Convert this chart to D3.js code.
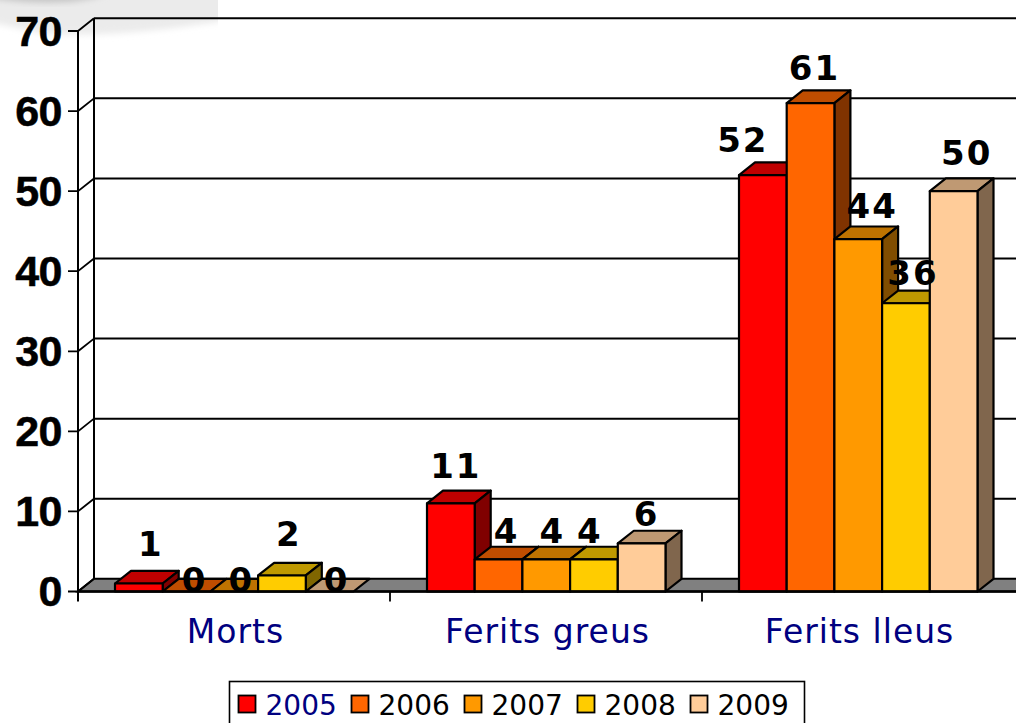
<!DOCTYPE html>
<html><head><meta charset="utf-8">
<script src="https://cdn.jsdelivr.net/npm/d3@7"></script>
<style>html,body{margin:0;padding:0;background:#fff;overflow:hidden}svg{display:block}</style>
</head><body><svg id="c" width="1016" height="723"></svg>
<script>
const categories = ["Morts", "Ferits greus", "Ferits lleus"];
const years = ["2005", "2006", "2007", "2008", "2009"];
const values2005 = [1, 11, 52];
const values2006 = [0, 4, 61];
const values2007 = [0, 4, 44];
const values2008 = [2, 4, 36];
const values2009 = [0, 6, 50];
const seriesValues = [values2005, values2006, values2007, values2008, values2009];
const colors = ["#FF0000", "#FF6600", "#FF9900", "#FFCC00", "#FFCC99"];
const yTicks = [0, 10, 20, 30, 40, 50, 60, 70];
// hand placement of the data labels, per year then category: [shift right of bar centre, gap above bar top]
const labelNudge = [
  [[12, 27], [5, 25], [-20, 23]],
  [[8, 0], [8, 16], [4, 23]],
  [[7, 0], [6, 16], [14, 21]],
  [[7, 29.5], [-4, 16], [7, 18]],
  [[7, 0], [5, 17], [13, 26.5]]
];

const W = 1016, H = 723, dx = 16, dy = -12.7;
const svg = d3.select("#c");
const defs = svg.append("defs");
defs.append("filter").attr("id", "blur").attr("x", "-10%").attr("y", "-30%").attr("width", "120%").attr("height", "160%")
  .append("feGaussianBlur").attr("stdDeviation", 3);
defs.append("clipPath").attr("id", "wmclip").append("rect").attr("width", 218).attr("height", 60);

const y = d3.scaleLinear().domain([0, 70]).range([591.5, 31]);
const x0 = d3.scaleBand().domain(categories).range([78, 1014]);
const x1 = d3.scaleBand().domain(years).range([37, 275.5]);
const shade = (c, k) => { const r = d3.rgb(c); return d3.rgb(r.r * k, r.g * k, r.b * k).formatHex(); };

// watermark remnant behind the plot
const wm = svg.append("g").attr("clip-path", "url(#wmclip)");
wm.append("path").attr("d", "M-10,-10H240V18C170,30 100,38 40,33L-10,22Z").attr("fill", "#ebebeb").attr("filter", "url(#blur)");
wm.append("path").attr("d", "M-10,-10H112C90,5 40,5 -10,-2Z").attr("fill", "#c4c4c4").attr("filter", "url(#blur)");

const y0 = y(0), xL = x0.range()[0];

// floor
svg.append("path")
  .attr("d", `M${xL},${y0}L${xL + dx},${y0 + dy}H${W + 2}V${y0}Z`)
  .attr("fill", "#808080").attr("stroke", "#000").attr("stroke-width", 2);

// walls and gridlines
svg.append("g").selectAll("line").data(yTicks.slice(1)).join("line")
  .attr("x1", xL + dx).attr("x2", W + 2)
  .attr("y1", d => y(d) + dy).attr("y2", d => y(d) + dy)
  .attr("stroke", "#000").attr("stroke-width", 2);
svg.append("g").selectAll("path").data(yTicks).join("path")
  .attr("d", d => `M${xL - 10},${y(d)}H${xL}L${xL + dx},${y(d) + dy}`)
  .attr("fill", "none").attr("stroke", "#000").attr("stroke-width", 1.8);
svg.append("line").attr("x1", xL).attr("x2", xL).attr("y1", y(70)).attr("y2", y0 + 10).attr("stroke", "#000").attr("stroke-width", 2);
svg.append("line").attr("x1", xL + dx).attr("x2", xL + dx).attr("y1", y(70) + dy).attr("y2", y0 + dy).attr("stroke", "#000").attr("stroke-width", 2);

// bars
const bars = [];
categories.forEach((c, i) => years.forEach((yr, j) => bars.push({ c, i, yr, j, v: seriesValues[j][i] })));
const bw = x1.bandwidth();
const g = svg.append("g").attr("stroke", "#000").attr("stroke-width", 2.2).attr("stroke-linejoin", "round");
bars.forEach(b => {
  const l = x0(b.c) + x1(b.yr), r = l + bw, t = y(b.v), col = colors[b.j];
  g.append("path").attr("d", `M${l},${t}L${l + dx},${t + dy}H${r + dx}L${r},${t}Z`).attr("fill", shade(col, 0.75));
  if (b.v > 0) {
    g.append("path").attr("d", `M${r},${t}L${r + dx},${t + dy}V${y0 + dy}L${r},${y0}Z`).attr("fill", shade(col, 0.5));
    g.append("rect").attr("x", l).attr("y", t).attr("width", bw).attr("height", y0 - t).attr("fill", col);
  }
});

// baseline
svg.append("line").attr("x1", xL).attr("x2", W + 2).attr("y1", y0).attr("y2", y0).attr("stroke", "#000").attr("stroke-width", 2.6);
svg.append("g").selectAll("line").data(categories.slice(1)).join("line")
  .attr("x1", d => x0(d)).attr("x2", d => x0(d)).attr("y1", y0).attr("y2", y0 + 10)
  .attr("stroke", "#000").attr("stroke-width", 1.8);

// y tick labels
svg.append("g").selectAll("text").data(yTicks).join("text")
  .attr("x", 62).attr("y", d => y(d) + 14.5)
  .attr("text-anchor", "end")
  .attr("font-family", "Liberation Sans").attr("font-weight", "bold").attr("font-size", 43)
  .attr("letter-spacing", -0.5)
  .attr("stroke", "#000").attr("stroke-width", 0.5)
  .attr("fill", "#000").text(d => d);

// data labels
svg.append("g").selectAll("text").data(bars).join("text")
  .attr("transform", b => {
    const [nx, ny] = labelNudge[b.j][b.i];
    return `translate(${x0(b.c) + x1(b.yr) + bw / 2 + nx},${y(b.v) - ny}) scale(1.03,1)`;
  })
  .attr("text-anchor", "middle")
  .attr("font-family", "DejaVu Sans").attr("font-weight", "bold").attr("font-size", 33)
  .attr("letter-spacing", 2)
  .attr("fill", "#000").text(b => b.v);

// category labels
svg.append("g").selectAll("text").data(categories).join("text")
  .attr("x", d => x0(d) + x0.bandwidth() / 2 + 1.5).attr("y", 643)
  .attr("text-anchor", "middle")
  .attr("font-family", "DejaVu Sans").attr("font-size", 33)
  .attr("letter-spacing", 1)
  .attr("fill", "#000080").text(d => d);

// legend
svg.append("rect").attr("x", 229.5).attr("y", 681.5).attr("width", 575).attr("height", 60)
  .attr("fill", "#fff").attr("stroke", "#000").attr("stroke-width", 1.6);
const legendX = d3.scalePoint().domain(years).range([238.5, 690.5]);
const lg = svg.append("g").selectAll("g").data(years).join("g")
  .attr("transform", d => `translate(${legendX(d)},0)`);
lg.append("rect").attr("x", 0).attr("y", 695.5).attr("width", 17).attr("height", 17)
  .attr("fill", (d, i) => colors[i]).attr("stroke", "#000").attr("stroke-width", 1.8);
lg.append("text").attr("x", 27).attr("y", 714.5)
  .attr("font-family", "DejaVu Sans").attr("font-size", 28)
  .attr("fill", (d, i) => i === 0 ? "#000080" : "#000").text(d => d);
</script></body></html>
